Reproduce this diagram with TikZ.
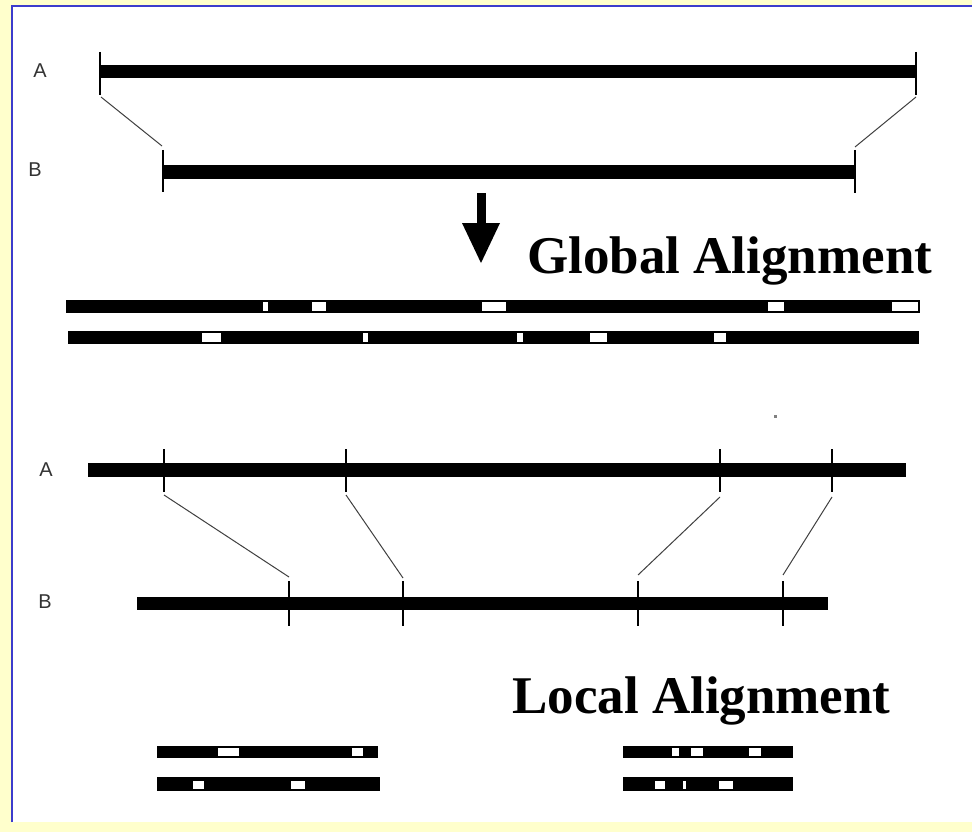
\documentclass[tikz,border=0pt]{standalone}
\usepackage{fontspec}
\setmainfont{Liberation Serif}
\newfontfamily\lblfont{Liberation Sans}
\definecolor{bgyellow}{HTML}{FFFFCC}
\definecolor{borderblue}{HTML}{3C3CCC}
\tikzset{
  seqbar/.style={fill=black},
  gapbox/.style={fill=white},
  tickmark/.style={line width=2pt, black},
  link/.style={line width=1pt, black!75},
  title/.style={font=\fontsize{53}{60}\selectfont\bfseries, inner sep=0pt, anchor=base west},
  seqlabel/.style={font=\lblfont\fontsize{20}{22}\selectfont, text=black!80, inner sep=0pt}
}
\newcommand\mybar[4]{\fill[seqbar] (#1,{#3-#4/2}) rectangle (#2,{#3+#4/2});}
\newcommand\mygap[4]{\fill[gapbox] (#1,{#3-#4/2+2}) rectangle (#2,{#3+#4/2-2});}
\begin{document}
\begin{tikzpicture}[x=1pt,y=-1pt]
\useasboundingbox (0,0) rectangle (972,832);
% background and frame
\fill[bgyellow] (0,0) rectangle (972,832);
\fill[white] (12,6) rectangle (972,822);
\draw[borderblue, line width=2pt] (12,822) -- (12,6) -- (972,6);

% ---------- Global section ----------
\node[seqlabel] (gA) at (40,71) {A};
\node[seqlabel] (gB) at (35,170) {B};
\mybar{100}{916}{72}{13}
\mybar{163}{855}{172}{13}
\draw[tickmark] (100,52) -- (100,95);
\draw[tickmark] (916,52) -- (916,95);
\draw[tickmark] (163,150) -- (163,192);
\draw[tickmark] (855,150) -- (855,193);
\coordinate (gA1) at (101,97);
\coordinate (gB1) at (162,146);
\coordinate (gA2) at (916,97);
\coordinate (gB2) at (855,147);
\draw[link] (gA1) -- (gB1);
\draw[link] (gA2) -- (gB2);

% arrow
\fill (477,193) rectangle (486,224);
\fill (462,223) -- (500,223) -- (481,263) -- cycle;
\node[title] (glob) at (527,273) {Global Alignment};

% aligned global sequences
\mybar{66}{920}{306}{13}
\mygap{263}{268}{306}{13}
\mygap{312}{326}{306}{13}
\mygap{482}{506}{306}{13}
\mygap{768}{784}{306}{13}
\mygap{892}{918}{306}{13}
\mybar{68}{919}{337}{13}
\mygap{202}{221}{337}{13}
\mygap{363}{368}{337}{13}
\mygap{517}{523}{337}{13}
\mygap{590}{607}{337}{13}
\mygap{714}{726}{337}{13}

% stray dot
\fill[gray] (774,415) rectangle (777,418);

% ---------- Local section ----------
\node[seqlabel] (lA) at (46,470) {A};
\node[seqlabel] (lB) at (45,602) {B};
\mybar{88}{906}{470}{14}
\mybar{137}{828}{603}{13}
\foreach \x in {164,346,720,832} {\draw[tickmark] (\x,449) -- (\x,492);}
\foreach \x in {289,403,638,783} {\draw[tickmark] (\x,581) -- (\x,626);}
\coordinate (lA1) at (164,495); \coordinate (lB1) at (289,577);
\coordinate (lA2) at (346,495); \coordinate (lB2) at (403,578);
\coordinate (lA3) at (720,497); \coordinate (lB3) at (638,575);
\coordinate (lA4) at (832,497); \coordinate (lB4) at (783,575);
\draw[link] (lA1) -- (lB1);
\draw[link] (lA2) -- (lB2);
\draw[link] (lA3) -- (lB3);
\draw[link] (lA4) -- (lB4);

\node[title] (loc) at (512,713) {Local Alignment};

% aligned local fragments, left pair
\mybar{157}{378}{752}{12}
\mygap{218}{239}{752}{12}
\mygap{352}{363}{752}{12}
\mybar{157}{380}{784}{14}
\mygap{193}{204}{785}{12}
\mygap{291}{305}{785}{12}
% right pair
\mybar{623}{793}{752}{12}
\mygap{672}{679}{752}{12}
\mygap{691}{703}{752}{12}
\mygap{749}{761}{752}{12}
\mybar{623}{793}{784}{14}
\mygap{655}{665}{785}{12}
\mygap{683}{686}{785}{12}
\mygap{719}{733}{785}{12}
\end{tikzpicture}
\end{document}
